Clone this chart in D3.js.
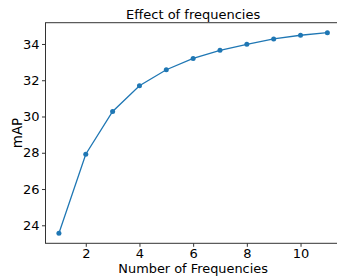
<!DOCTYPE html>
<html>
<head>
<meta charset="utf-8">
<script src="https://cdn.jsdelivr.net/npm/d3@7"></script>
<style>
  body { margin: 0; background: #fff; }
  svg { display: block; font-family: "DejaVu Sans", sans-serif; }
</style>
</head>
<body>
<div id="chart"></div>
<script>
// data
var frequencies = [1, 2, 3, 4, 5, 6, 7, 8, 9, 10, 11];
var mapValues = [23.56, 27.92, 30.28, 31.70, 32.58, 33.20, 33.65, 33.98, 34.28, 34.48, 34.62];
var xTicks = [2, 4, 6, 8, 10];
var yTicks = [24, 26, 28, 30, 32, 34];

var W = 337, H = 276;
// right edge of the axes falls just outside the picture
var margin = {top: 22.7, right: -3.8, bottom: 32.7, left: 45.5};
var width = W - margin.left - margin.right,
    height = H - margin.top - margin.bottom;

var svg = d3.select("#chart").append("svg")
    .attr("width", W)
    .attr("height", H);

var g = svg.append("g")
    .attr("transform", "translate(" + margin.left + "," + margin.top + ")");

// matplotlib style 5% padding
var xPad = (d3.max(frequencies) - d3.min(frequencies)) * 0.05;
var yPad = (d3.max(mapValues) - d3.min(mapValues)) * 0.05;
var x = d3.scaleLinear()
    .domain([d3.min(frequencies) - xPad, d3.max(frequencies) + xPad])
    .range([0, width]);
var y = d3.scaleLinear()
    .domain([d3.min(mapValues) - yPad, d3.max(mapValues) + yPad])
    .range([height, 0]);

// axes
var xAxis = g.append("g")
    .attr("transform", "translate(0," + height + ")")
    .call(d3.axisBottom(x).tickValues(xTicks).tickSize(3.5).tickPadding(1.5).tickSizeOuter(0));
var yAxis = g.append("g")
    .call(d3.axisLeft(y).tickValues(yTicks).tickSize(3.5).tickPadding(2.5).tickSizeOuter(0));

[xAxis, yAxis].forEach(function(a) {
  a.selectAll("text").attr("font-size", 13).attr("fill", "#000")
      .attr("font-family", "DejaVu Sans, sans-serif");
  a.selectAll("line").attr("stroke", "#333").attr("stroke-width", 1);
  a.select(".domain").remove();
});

// spines
g.append("rect")
    .attr("width", width)
    .attr("height", height)
    .attr("fill", "none")
    .attr("stroke", "#333")
    .attr("stroke-width", 1);

// line + markers
var line = d3.line()
    .x(function(d, i) { return x(frequencies[i]); })
    .y(function(d) { return y(d); });

g.append("path")
    .datum(mapValues)
    .attr("fill", "none")
    .attr("stroke", "#1f77b4")
    .attr("stroke-width", 1.3)
    .attr("d", line);

g.selectAll("circle")
    .data(mapValues)
    .enter().append("circle")
    .attr("cx", function(d, i) { return x(frequencies[i]); })
    .attr("cy", function(d) { return y(d); })
    .attr("r", 2.5)
    .attr("fill", "#1f77b4");

// labels
svg.append("text")
    .attr("x", margin.left + width / 2)
    .attr("y", 19.3)
    .attr("text-anchor", "middle")
    .attr("font-size", 13)
    .text("Effect of frequencies");

svg.append("text")
    .attr("x", margin.left + width / 2)
    .attr("y", 272.9)
    .attr("text-anchor", "middle")
    .attr("font-size", 12.9)
    .text("Number of Frequencies");

svg.append("text")
    .attr("transform", "translate(22," + (margin.top + height / 2) + ") rotate(-90)")
    .attr("text-anchor", "middle")
    .attr("font-size", 13.4)
    .text("mAP");
</script>
</body>
</html>
